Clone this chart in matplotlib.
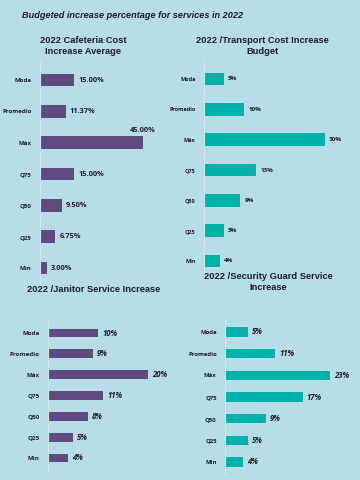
import matplotlib.pyplot as plt

# Data
stats = ['Moda', 'Promedio', 'Máx', 'Q75', 'Q50', 'Q25', 'Min']
cafeteria = [15.00, 11.37, 45.00, 15.00, 9.50, 6.75, 3.00]
transport = [5, 10, 30, 13, 9, 5, 4]
janitor = [10, 9, 20, 11, 8, 5, 4]
security = [5, 11, 23, 17, 9, 5, 4]

BG = '#b7dde8'
PURPLE = '#5f4b7e'
TEAL = '#00b2a9'
TXT = '#1c1c2a'
W, H = 360, 480

fig = plt.figure(figsize=(3.6, 4.8), dpi=100, facecolor=BG)


def panel(x0, pxper, yfirst, ylast, xmax, vals, color, fmt, lab_size, tick_size,
          italic=False, maxlabel_above=False, bar_h=0.4, gap=4):
    n = len(vals)
    step = (ylast - yfirst) / (n - 1)
    top = yfirst - step * 0.6
    height = step * (n - 1 + 1.2)
    width = xmax * pxper
    ax = fig.add_axes([x0 / W, 1 - (top + height) / H, width / W, height / H])
    ax.set_facecolor('none')
    ypos = list(range(n))
    ax.barh(ypos, vals, height=bar_h, color=color)
    ax.set_xlim(0, xmax)
    ax.set_ylim(n - 1 + 0.6, -0.6)
    ax.set_yticks(ypos)
    ax.set_yticklabels(stats, fontsize=tick_size, fontweight='bold',
                       family='Open Sans', color=TXT)
    ax.tick_params(axis='y', length=0, pad=6)
    ax.set_xticks([])
    for s in ['top', 'right', 'bottom']:
        ax.spines[s].set_visible(False)
    ax.spines['left'].set_color('#cfe6ee')
    ax.spines['left'].set_linewidth(0.8)
    off = gap / pxper
    for i, v in enumerate(vals):
        txt = fmt.format(v)
        if maxlabel_above and v == max(vals):
            ax.text(v, i - bar_h / 2 - 0.08, txt, ha='center', va='bottom',
                    fontsize=lab_size, fontweight='bold', family='Open Sans',
                    color=TXT)
        else:
            ax.text(v + off, i, txt, ha='left', va='center', fontsize=lab_size,
                    fontweight='bold', family='Open Sans', color=TXT,
                    style='italic' if italic else 'normal')
    return ax


panel(40, 2.28, 80, 268, 55, cafeteria, PURPLE, '{:.2f}%', 5.3, 4.4,
      maxlabel_above=True, bar_h=0.4)
panel(204, 4.03, 79, 261, 38, transport, TEAL, '{:.0f}%', 4.5, 4.0, bar_h=0.41)
panel(48, 5.0, 333, 458, 24, janitor, PURPLE, '{:.0f}%', 5.6, 4.5,
      italic=True, bar_h=0.43)
panel(225, 4.56, 332, 462, 28, security, TEAL, '{:.0f}%', 5.6, 4.3,
      italic=True, bar_h=0.43)

fig.text(22 / W, 1 - 16 / H, 'Budgeted increase percentage for services in 2022',
         fontsize=6.6, fontweight='bold', style='italic', family='Liberation Sans',
         color=TXT, ha='left', va='center')

tkw = dict(fontsize=6.7, fontweight='bold', family='Liberation Sans', color=TXT,
           ha='center', va='center', linespacing=1.35)
fig.text(83 / W, 1 - 46 / H, '2022 Cafeteria Cost\nIncrease Average', **tkw)
fig.text(262 / W, 1 - 46 / H, '2022 /Transport Cost Increase\nBudget', **tkw)
fig.text(94 / W, 1 - 289 / H, '2022 /Janitor Service Increase', **tkw)
fig.text(268 / W, 1 - 282 / H, '2022 /Security Guard Service\nIncrease', **tkw)

fig.savefig('out.png', dpi=100, facecolor=BG)
